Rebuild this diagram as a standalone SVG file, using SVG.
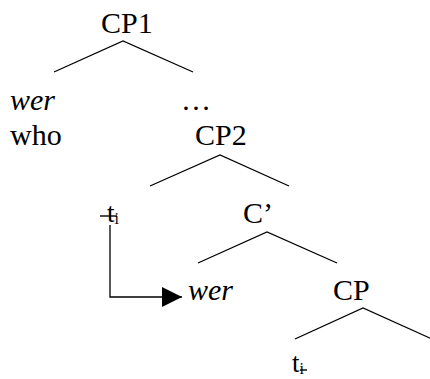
<svg xmlns="http://www.w3.org/2000/svg" width="430" height="379" viewBox="0 0 430 379">
<style>
text{font-family:'Liberation Serif','DejaVu Serif',serif;font-size:30px;fill:#000}
.it{font-style:italic}
.t{font-size:27px}
.sub{font-size:16px}
.edge{stroke:#000;stroke-width:1.3;fill:none}
.strike{stroke:#000;stroke-width:1.4}
</style>
<defs>
<marker id="ah" markerUnits="userSpaceOnUse" markerWidth="20" markerHeight="20" viewBox="0 0 20 20" refX="20" refY="10" orient="auto">
<path d="M0,0 L20,10 L0,20 z" fill="#000"/>
</marker>
</defs>
<rect width="430" height="379" fill="#fff"/>
<g id="connectors">
<path class="edge" d="M54,72 L123,41 L193,72"/>
<path class="edge" d="M150,186 L220,155 L289,186"/>
<path class="edge" d="M198,263 L267,232 L337,263"/>
<path class="edge" d="M295,339 L363,308 L432,339"/>
<path class="edge" d="M110,225 V297 H182" marker-end="url(#ah)"/>
</g>
<g id="cp1"><text x="101" y="33" font-family="Liberation Serif, serif">CP1</text></g>
<g id="wer1"><text class="it" x="10" y="110" font-family="Liberation Serif, serif">wer</text></g>
<g id="who"><text x="10" y="145" font-family="Liberation Serif, serif">who</text></g>
<g id="dots"><text x="181" y="110" font-family="Liberation Serif, serif">…</text></g>
<g id="cp2"><text x="195" y="145" font-family="Liberation Serif, serif">CP2</text></g>
<g id="trace1"><text class="t" x="107" y="222" font-family="Liberation Serif, serif">t<tspan class="sub" dy="2">i</tspan></text><line class="strike" x1="100" y1="216" x2="117" y2="216"/></g>
<g id="cbar"><text x="243" y="223" font-family="Liberation Serif, serif">C’</text></g>
<g id="wer2"><text class="it" x="188" y="300" font-family="Liberation Serif, serif">wer</text></g>
<g id="cp"><text x="333" y="300" font-family="Liberation Serif, serif">CP</text></g>
<g id="trace2"><text class="t" x="292" y="372" font-family="Liberation Serif, serif">t<tspan class="sub" dy="2">i</tspan></text><line class="strike" x1="300" y1="370" x2="307" y2="370"/></g>
</svg>
